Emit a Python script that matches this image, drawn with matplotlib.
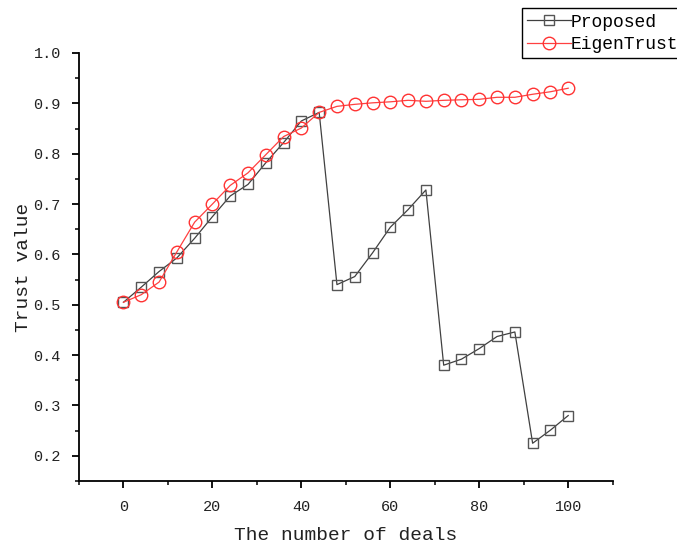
import numpy as np
import matplotlib.pyplot as plt
from matplotlib.ticker import MultipleLocator

deals = [0, 4, 8, 12, 16, 20, 24, 28, 32, 36, 40, 44, 48, 52, 56, 60, 64, 68,
         72, 76, 80, 84, 88, 92, 96, 100]
proposed = [0.505, 0.535, 0.566, 0.593, 0.632, 0.675, 0.716, 0.739, 0.782, 0.822,
            0.865, 0.882, 0.540, 0.556, 0.603, 0.654, 0.689, 0.728,
            0.380, 0.392, 0.413, 0.437, 0.446, 0.225, 0.251, 0.280]
eigentrust = [0.505, 0.520, 0.545, 0.605, 0.664, 0.700, 0.737, 0.762, 0.798, 0.834,
              0.851, 0.882, 0.894, 0.898, 0.901, 0.903, 0.906, 0.904,
              0.906, 0.907, 0.908, 0.912, 0.912, 0.918, 0.923, 0.930]

plt.rcParams['font.family'] = ['Liberation Mono', 'DejaVu Sans Mono']

fig = plt.figure(figsize=(6.77, 5.45), dpi=100)
ax = fig.add_axes([0.1167, 0.1174, 0.7883, 0.7854])

ax.plot(deals, proposed, color='#404040', lw=0.9, marker='s', ms=7,
        mfc='none', mec='#555555', mew=1.0, label='Proposed')
ax.plot(deals, eigentrust, color='#ff4040', lw=0.9, marker='o', ms=9,
        mfc='none', mec='#ff3333', mew=1.0, label='EigenTrust')

ax.set_xlim(-10, 110)
ax.set_ylim(0.15, 1.0)
ax.xaxis.set_minor_locator(MultipleLocator(10))
ax.yaxis.set_minor_locator(MultipleLocator(0.05))
ax.set_xticks([0, 20, 40, 60, 80, 100])
ax.set_yticks([0.2, 0.3, 0.4, 0.5, 0.6, 0.7, 0.8, 0.9, 1.0])
ax.yaxis.set_major_formatter(plt.FormatStrFormatter('%.1f'))

for s in ['top', 'right']:
    ax.spines[s].set_visible(False)
for s in ['left', 'bottom']:
    ax.spines[s].set_linewidth(1.3)
ax.tick_params(which='major', direction='out', length=5, width=1.3,
               labelsize=11, colors='black', labelcolor='#222222')
ax.tick_params(axis='x', which='major', pad=9)
ax.tick_params(axis='y', which='major', pad=8)
ax.tick_params(which='minor', direction='out', length=3, width=1.1)

ax.set_xlabel('The number of deals', fontsize=14, color='#222222', labelpad=9)
ax.set_ylabel('Trust value', fontsize=14, color='#222222', labelpad=1)

leg = fig.legend(loc='upper left', bbox_to_anchor=(0.771, 0.985),
                 fontsize=13, fancybox=False, edgecolor='black',
                 handlelength=2.4, handletextpad=0.0, borderpad=0.3,
                 labelspacing=0.3, borderaxespad=0, framealpha=1)
leg.get_frame().set_linewidth(1.0)

fig.savefig('out.png', dpi=100)
